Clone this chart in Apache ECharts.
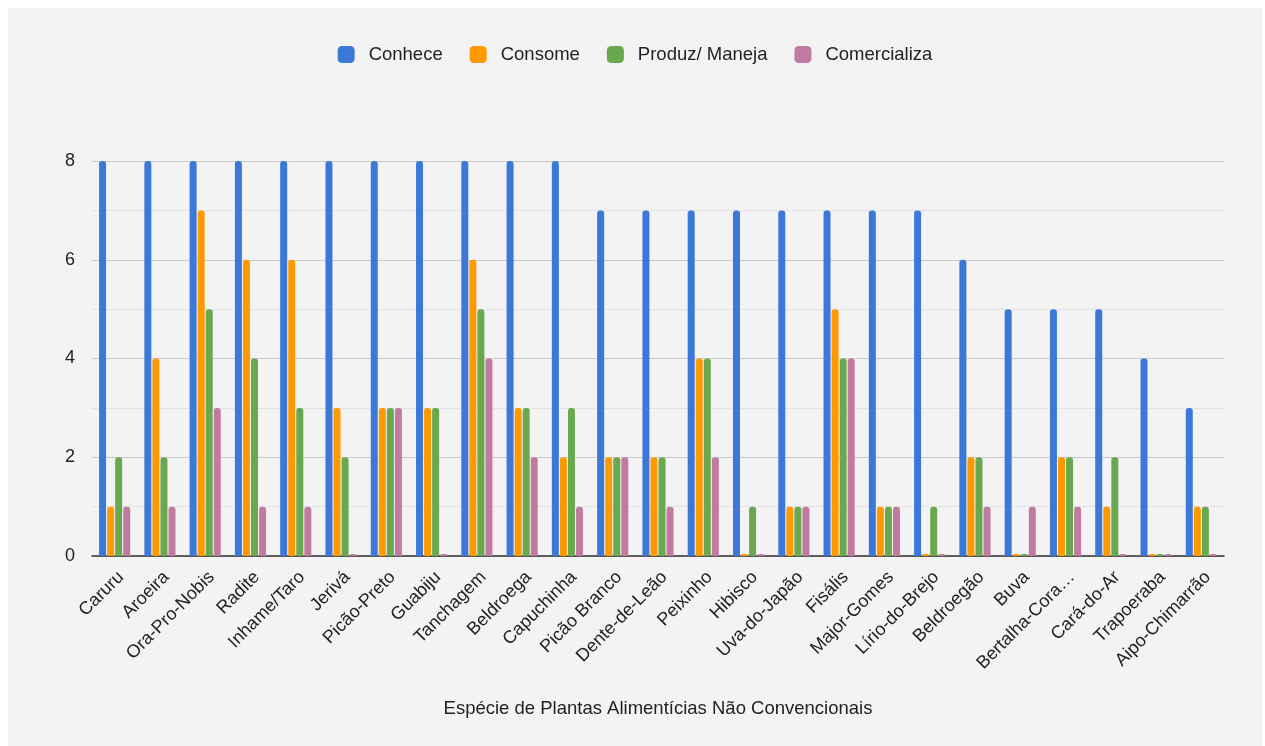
<!DOCTYPE html>
<html>
<head>
<meta charset="utf-8">
<script src="https://cdn.jsdelivr.net/npm/echarts@6/dist/echarts.min.js"></script>
<style>
  body { margin: 0; background: #ffffff; }
  #main { position: absolute; left: 8px; top: 8px; width: 1254px; height: 738px; background: #f3f3f3; }
</style>
</head>
<body>
<div id="main"></div>
<script>
const categories = ['Caruru', 'Aroeira', 'Ora-Pro-Nobis', 'Radite', 'Inhame/Taro', 'Jerivá', 'Picão-Preto',
  'Guabiju', 'Tanchagem', 'Beldroega', 'Capuchinha', 'Picão Branco', 'Dente-de-Leão', 'Peixinho', 'Hibisco',
  'Uva-do-Japão', 'Fisális', 'Major-Gomes', 'Lírio-do-Brejo', 'Beldroegão', 'Buva', 'Bertalha-Coração',
  'Cará-do-Ar', 'Trapoeraba', 'Aipo-Chimarrão'];
const conhece = [8, 8, 8, 8, 8, 8, 8, 8, 8, 8, 8, 7, 7, 7, 7, 7, 7, 7, 7, 6, 5, 5, 5, 4, 3];
const consome = [1, 4, 7, 6, 6, 3, 3, 3, 6, 3, 2, 2, 2, 4, 0, 1, 5, 1, 0, 2, 0, 2, 1, 0, 1];
const produz = [2, 2, 5, 4, 3, 2, 3, 3, 5, 3, 3, 2, 2, 4, 1, 1, 4, 1, 1, 2, 0, 2, 2, 0, 1];
const comercializa = [1, 1, 3, 1, 1, 0, 3, 0, 4, 2, 1, 2, 1, 2, 0, 1, 4, 1, 0, 1, 1, 1, 0, 0, 0];
const yTicks = [0, 2, 4, 6, 8];

const chart = echarts.init(document.getElementById('main'));

function bar(name, data, color) {
  return {
    name: name,
    type: 'bar',
    data: data,
    barWidth: 7,
    barGap: '15%',
    barMinHeight: 2,
    itemStyle: { color: color, borderRadius: [3, 3, 0, 0] }
  };
}

const option = {
  backgroundColor: '#f3f3f3',
  textStyle: { fontFamily: 'Liberation Sans, Arial, sans-serif' },
  legend: {
    top: 32,
    left: 'center',
    itemWidth: 17,
    itemHeight: 17,
    itemGap: 27,
    icon: 'roundRect',
    textStyle: { fontSize: 18.5, color: '#222', padding: [0, 0, 0, 9] }
  },
  grid: { left: 84, right: 38, top: 153, bottom: 190 },
  xAxis: {
    type: 'category',
    data: categories,
    name: 'Espécie de Plantas Alimentícias Não Convencionais',
    nameLocation: 'middle',
    nameGap: 143,
    nameTextStyle: { fontSize: 18.5, color: '#222' },
    axisLine: { lineStyle: { color: '#333', width: 1.5 } },
    axisTick: { show: false },
    axisLabel: {
      rotate: 45,
      fontSize: 18,
      color: '#222',
      margin: 12,
      verticalAlign: 'top',
      interval: 0,
      formatter: function (s) { return s.length > 14 ? s.slice(0, 13) + '…' : s; }
    }
  },
  yAxis: {
    type: 'value',
    min: yTicks[0],
    max: yTicks[yTicks.length - 1],
    interval: 2,
    axisLabel: { fontSize: 18, color: '#222', margin: 17 },
    axisLine: { show: false },
    axisTick: { show: false },
    splitLine: { lineStyle: { color: '#c8c8c8' } },
    minorTick: { show: false, splitNumber: 2 },
    minorSplitLine: { show: true, lineStyle: { color: '#e2e2e2' } }
  },
  series: [
    bar('Conhece', conhece, '#3c78d8'),
    bar('Consome', consome, '#ff9900'),
    bar('Produz/ Maneja', produz, '#6aa84f'),
    bar('Comercializa', comercializa, '#c27ba0')
  ]
};

chart.setOption(option);
</script>
</body>
</html>
